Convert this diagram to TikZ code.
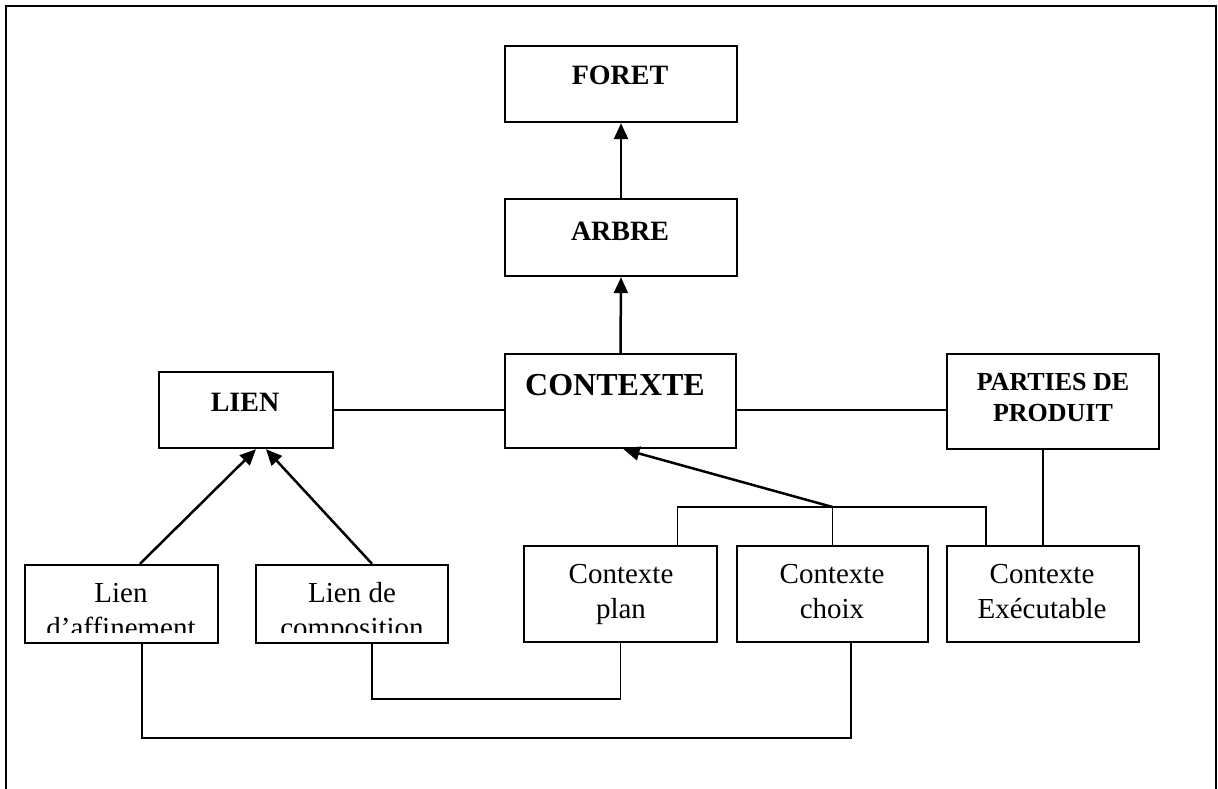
\documentclass[tikz,border=0pt]{standalone}
\usepackage{fontspec}
\setmainfont{Liberation Serif}
\usetikzlibrary{arrows.meta,calc}

\begin{document}
\begin{tikzpicture}[x=1pt,y=-1pt,
  box/.style={draw,line width=2.4pt,rectangle,inner sep=0pt},
  title/.style={anchor=base,font=\bfseries\fontsize{28}{31}\selectfont,inner sep=0pt},
  label/.style={anchor=base,font=\fontsize{29}{35}\selectfont,align=center,inner sep=0pt},
  link/.style={line width=1.7pt},
  up/.style={line width=2.5pt,-{Triangle[length=16pt,width=14pt]}}]

\useasboundingbox (0,0) rectangle (1218,789);
% open frame around the figure
\draw[line width=2.6pt] (6,789) -- (6,6) -- (1216,6) -- (1216,789);

% upper boxes
\node[box,minimum width=232pt,minimum height=76pt] (foret) at (621,84) {};
\node[box,minimum width=232pt,minimum height=77pt] (arbre) at (621,237.5) {};
\node[box,minimum width=231pt,minimum height=94pt] (contexte) at (620.5,401) {};
\node[box,minimum width=174pt,minimum height=76pt] (lien) at (246,410) {};
\node[box,minimum width=212pt,minimum height=95pt] (parties) at (1053,401.5) {};

% lower boxes
\node[box,minimum width=193pt,minimum height=78pt] (laff) at (121.5,604) {};
\node[box,minimum width=192pt,minimum height=78pt] (lcomp) at (352,604) {};
\node[box,minimum width=193pt,minimum height=96pt] (cplan) at (620.5,594) {};
\node[box,minimum width=191pt,minimum height=96pt] (cchoix) at (832.5,594) {};
\node[box,minimum width=192pt,minimum height=96pt] (cexec) at (1043,594) {};

% titles (a multi-line node sits on the baseline of its last line)
\node[title] (foret-t) at (620,85) {FORET};
\node[title] (arbre-t) at (620,240) {ARBRE};
\node[title,font=\bfseries\fontsize{32}{36}\selectfont] (contexte-t) at (615,395) {CONTEXTE};
\node[title] (lien-t) at (245,411) {LIEN};
\node[title,font=\bfseries\fontsize{26}{31}\selectfont,align=center] (parties-t) at (1053,421) {PARTIES DE\\PRODUIT};

\node[label] (cplan-t) at (621,618) {Contexte\\plan};
\node[label] (cchoix-t) at (832,618) {Contexte\\choix};
\node[label] (cexec-t) at (1042,618) {Contexte\\Exécutable};

% the two link labels are cut off just above the box edge
\begin{scope}
  \clip (10,560) rectangle (460,632);
  \node[label] (laff-t) at (121,637) {Lien\\d’affinement};
  \node[label] (lcomp-t) at (352,637) {Lien de\\composition};
\end{scope}

% hierarchy arrows
\draw[up] (arbre.north) -- (foret.south);
\draw[up] (contexte.north) -- (arbre.south);
\draw[up] ([xshift=18.5pt]laff.north) -- ([xshift=10pt]lien.south);
\draw[up] ([xshift=20pt]lcomp.north) -- ([xshift=20pt]lien.south);

% plain associations
\draw[link] (lien.east) -- (lien.east -| contexte.west);
\draw[link] (contexte.east |- lien.east) -- (lien.east -| parties.west);
\draw[link] (cexec.north |- parties.south) -- (cexec.north);

% grouping of the three context kinds
\coordinate (br) at (832.5,507);
\draw[link] ([xshift=57pt]cplan.north) |- (br) -| ([xshift=-57pt]cexec.north);
\draw[link] (br) -- (cchoix.north);
\draw[up] (br) -- ([xshift=3pt]contexte.south);

% cross links along the bottom
\draw[link] ([xshift=20pt]lcomp.south) -- ++(0,55) -| (cplan.south);
\draw[link] ([xshift=20.5pt]laff.south) -- ++(0,94) -| ([xshift=18.5pt]cchoix.south);
\end{tikzpicture}
\end{document}
